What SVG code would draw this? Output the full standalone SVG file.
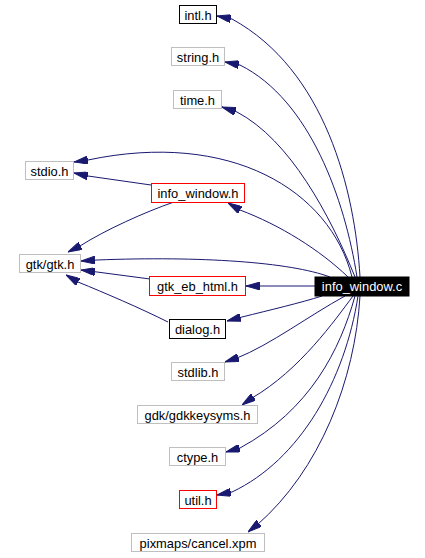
<svg xmlns="http://www.w3.org/2000/svg" width="425" height="558" viewBox="0 0 425 558">
<style>
  .n rect { fill: #ffffff; stroke-width: 1; }
  .k rect { stroke: #000000; }
  .g rect { stroke: #bfbfbf; }
  .r rect { stroke: #ff0000; }
  .n text { font-family: "Liberation Sans", Arial, sans-serif; font-size: 12.9px; text-anchor: middle; fill: #000000; }
  #n_info_window_c rect { fill: #000000; stroke: #000000; }
  #n_info_window_c text { fill: #ffffff; }
  .e path { fill: none; stroke: #191970; stroke-width: 1; marker-end: url(#ah); }
</style>
<defs>
  <marker id="ah" markerUnits="userSpaceOnUse" viewBox="0 0 14 8" refX="14" refY="4" markerWidth="14" markerHeight="8" orient="auto">
    <polygon points="0,0 14,4 0,8" fill="#191970" stroke="#191970"/>
  </marker>
</defs>
<g id="edges" class="e">
  <path d="M 360,277 C 355,190 325,70 232,19 L 217,16"/>
  <path d="M 357,277 C 345,200 310,100 240,65 L 225,62"/>
  <path d="M 355,277 C 330,215 290,140 237,112 L 222,107"/>
  <path d="M 352,277 C 330,190 230,130 88,160 L 74,162"/>
  <path d="M 151,185 L 88,176 L 74,173"/>
  <path d="M 348,277 C 320,250 280,225 240,210 L 228,203"/>
  <path d="M 174,202 C 145,212 105,230 80,246 L 68,252"/>
  <path d="M 330,277 C 290,262 200,256 97,260 L 81,261"/>
  <path d="M 150,279 L 97,272 L 81,270"/>
  <path d="M 168,322 C 140,308 105,293 78,282 L 66,275"/>
  <path d="M 315,286 L 246,286"/>
  <path d="M 322,296 C 300,303 270,310 242,317 L 227,321"/>
  <path d="M 345,296 C 310,315 270,345 237,358 L 225,362"/>
  <path d="M 353,296 C 335,320 300,370 252,398 L 242,405"/>
  <path d="M 355,296 C 340,350 310,410 240,448 L 226,452"/>
  <path d="M 358,296 C 345,380 300,460 232,492 L 217,495"/>
  <path d="M 360,296 C 355,380 320,470 257,525 L 248,532"/>
</g>
<g id="n_intl_h" class="n k"><rect x="179.5" y="5.5" width="37" height="18"/><text x="198" y="19.5">intl.h</text></g>
<g id="n_string_h" class="n g"><rect x="171.5" y="47.5" width="53" height="18"/><text x="198" y="61.5">string.h</text></g>
<g id="n_time_h" class="n g"><rect x="173.5" y="90.5" width="48" height="18"/><text x="197.5" y="104.5">time.h</text></g>
<g id="n_stdio_h" class="n g"><rect x="25.5" y="161.5" width="48" height="18"/><text x="49.5" y="175.5">stdio.h</text></g>
<g id="n_info_window_h" class="n r"><rect x="151.5" y="183.5" width="93" height="19"/><text x="198" y="198">info_window.h</text></g>
<g id="n_gtk_gtk_h" class="n g"><rect x="19.5" y="254.5" width="61" height="18"/><text x="50" y="268.5">gtk/gtk.h</text></g>
<g id="n_gtk_eb_html_h" class="n r"><rect x="149.5" y="276.5" width="96" height="19"/><text x="197.5" y="291">gtk_eb_html.h</text></g>
<g id="n_info_window_c" class="n"><rect x="315" y="277" width="94" height="19"/><text x="362" y="291">info_window.c</text></g>
<g id="n_dialog_h" class="n k"><rect x="169.5" y="319.5" width="56" height="19"/><text x="197.5" y="334">dialog.h</text></g>
<g id="n_stdlib_h" class="n g"><rect x="171.5" y="362.5" width="53" height="18"/><text x="198" y="376.5">stdlib.h</text></g>
<g id="n_gdkkeysyms_h" class="n g"><rect x="137.5" y="405.5" width="120" height="18"/><text x="197.5" y="419.5">gdk/gdkkeysyms.h</text></g>
<g id="n_ctype_h" class="n g"><rect x="169.5" y="447.5" width="56" height="18"/><text x="197.5" y="461.5">ctype.h</text></g>
<g id="n_util_h" class="n r"><rect x="179.5" y="490.5" width="37" height="18"/><text x="198" y="504.5">util.h</text></g>
<g id="n_cancel_xpm" class="n g"><rect x="131.5" y="533.5" width="133" height="18"/><text x="198" y="547.5">pixmaps/cancel.xpm</text></g>
</svg>
